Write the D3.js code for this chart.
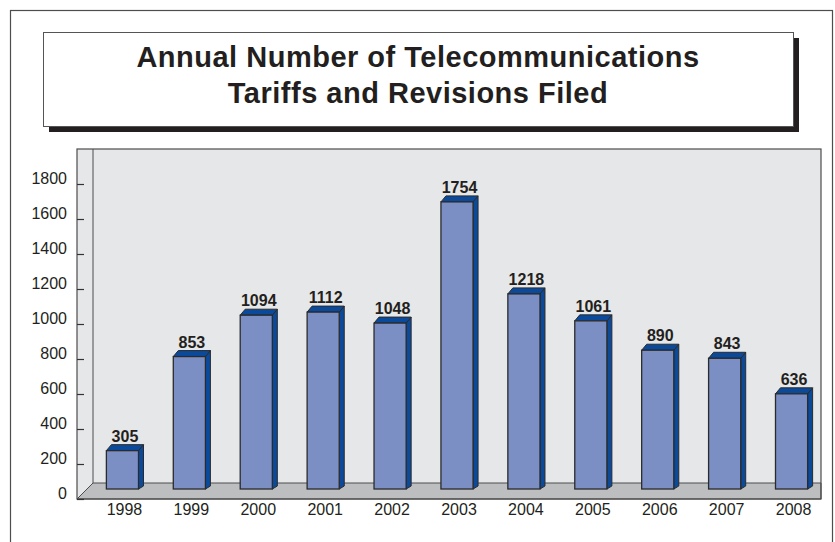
<!DOCTYPE html>
<html>
<head>
<meta charset="utf-8">
<script src="https://cdn.jsdelivr.net/npm/d3@7"></script>
<style>
  html, body { margin: 0; padding: 0; background: #ffffff; }
  svg { display: block; font-family: "Liberation Sans", Arial, Helvetica, sans-serif; }
</style>
</head>
<body>
<svg id="chart" width="835" height="542"></svg>
<script>
// Filing counts per year
const years = ["1998", "1999", "2000", "2001", "2002", "2003", "2004", "2005", "2006", "2007", "2008"];
const filings = [305, 853, 1094, 1112, 1048, 1754, 1218, 1061, 890, 843, 636];
const yTicks = [0, 200, 400, 600, 800, 1000, 1200, 1400, 1600, 1800];
const titleLines = ["Annual Number of Telecommunications", "Tariffs and Revisions Filed"];

const svg = d3.select("#chart");

// Outer frame
svg.append("rect")
  .attr("x", 10.5).attr("y", 10.5)
  .attr("width", 822).attr("height", 580)
  .attr("fill", "none").attr("stroke", "#4d4d4d").attr("stroke-width", 1.2);

// Title box with drop shadow
const tb = { x: 43, y: 32, w: 750, h: 94, off: 6 };
svg.append("rect")
  .attr("x", tb.x + tb.off).attr("y", tb.y + tb.off)
  .attr("width", tb.w).attr("height", tb.h)
  .attr("fill", "#231f20");
svg.append("rect")
  .attr("x", tb.x + 0.5).attr("y", tb.y + 0.5)
  .attr("width", tb.w).attr("height", tb.h)
  .attr("fill", "#ffffff").attr("stroke", "#555555").attr("stroke-width", 1);
svg.selectAll("text.title").data(titleLines).enter().append("text")
  .attr("class", "title")
  .attr("x", tb.x + tb.w / 2)
  .attr("y", (d, i) => 67 + i * 36)
  .attr("text-anchor", "middle")
  .attr("font-size", 29).attr("font-weight", "bold")
  .attr("letter-spacing", 0.5)
  .attr("fill", "#231f20")
  .text(d => d);

// 3D plot box geometry
const wall = { left: 77, right: 821, top: 149, front: 499, depthX: 16, depthY: 16 };
const backX = wall.left + wall.depthX;
const backFloor = wall.front - wall.depthY;

// Axis scale on the front plane, bar scale on the bar plane
const yAxis = d3.scaleLinear().domain([0, 1800]).range([wall.front, 184]);
const yBar = d3.scaleLinear().domain([0, 1800]).range([503, 194]);
const x = d3.scaleBand().domain(years).range([backX, wall.right])
  .paddingInner(0.52).paddingOuter(0.2);
const barBase = 489;
const bd = { dx: 5, dy: 6 };

const frame = svg.append("g");
// back wall
frame.append("rect")
  .attr("x", wall.left).attr("y", wall.top)
  .attr("width", wall.right - wall.left).attr("height", wall.front - wall.top)
  .attr("fill", "#e6e7e8");
// floor
frame.append("path")
  .attr("d", `M${wall.left},${wall.front} L${backX},${backFloor} L${wall.right},${backFloor} L${wall.right},${wall.front} Z`)
  .attr("fill", "#bcbec0").attr("stroke", "#4d4d4d").attr("stroke-width", 1);
// side wall edge
frame.append("line")
  .attr("x1", backX).attr("x2", backX)
  .attr("y1", wall.top).attr("y2", backFloor)
  .attr("stroke", "#4d4d4d").attr("stroke-width", 1);
// outline
frame.append("rect")
  .attr("x", wall.left).attr("y", wall.top)
  .attr("width", wall.right - wall.left).attr("height", wall.front - wall.top)
  .attr("fill", "none").attr("stroke", "#4d4d4d").attr("stroke-width", 1.2);

// Y axis ticks and labels
const yAxisGen = d3.axisRight(yAxis).tickValues(yTicks).tickSize(7).tickFormat(d3.format("d"));
const ya = svg.append("g").attr("transform", `translate(${wall.left},0)`).call(yAxisGen);
ya.select(".domain").remove();
ya.selectAll(".tick line").attr("stroke", "#333333").attr("stroke-width", 1.2);
ya.selectAll(".tick text")
  .attr("x", -10).attr("dy", "-0.05em")
  .attr("text-anchor", "end")
  .attr("font-size", 16).attr("font-family", "Liberation Sans, Arial, sans-serif")
  .attr("fill", "#231f20");

// X axis labels
svg.selectAll("text.xlab").data(years).enter().append("text")
  .attr("class", "xlab")
  .attr("x", d => x(d) + x.bandwidth() / 2 + 2)
  .attr("y", 515)
  .attr("text-anchor", "middle")
  .attr("font-size", 16)
  .attr("fill", "#231f20")
  .text(d => d);

// Bars
const data = years.map((y, i) => ({ year: y, value: filings[i] }));
const bars = svg.selectAll("g.bar").data(data).enter().append("g").attr("class", "bar");
const bw = x.bandwidth();

// side face
bars.append("path")
  .attr("d", d => {
    const x0 = x(d.year) + bw, yt = yBar(d.value);
    return `M${x0},${yt} L${x0 + bd.dx},${yt - bd.dy} L${x0 + bd.dx},${barBase - bd.dy / 2} L${x0},${barBase} Z`;
  })
  .attr("fill", "#0b4a9b").attr("stroke", "#2b2b2b").attr("stroke-width", 1).attr("stroke-linejoin", "round");
// top face
bars.append("path")
  .attr("d", d => {
    const x0 = x(d.year), yt = yBar(d.value);
    return `M${x0},${yt} L${x0 + bd.dx},${yt - bd.dy} L${x0 + bw + bd.dx},${yt - bd.dy} L${x0 + bw},${yt} Z`;
  })
  .attr("fill", "#0b4a9b").attr("stroke", "#2b2b2b").attr("stroke-width", 1).attr("stroke-linejoin", "round");
// front face
bars.append("rect")
  .attr("x", d => x(d.year))
  .attr("y", d => yBar(d.value))
  .attr("width", bw)
  .attr("height", d => barBase - yBar(d.value))
  .attr("fill", "#7b8fc5").attr("stroke", "#2b2b2b").attr("stroke-width", 1.3);

// Value labels
bars.append("text")
  .attr("x", d => x(d.year) + bw / 2 + 2.5)
  .attr("y", d => yBar(d.value) - 9)
  .attr("text-anchor", "middle")
  .attr("font-size", 16).attr("font-weight", "bold")
  .attr("fill", "#231f20")
  .text(d => d.value);
</script>
</body>
</html>
